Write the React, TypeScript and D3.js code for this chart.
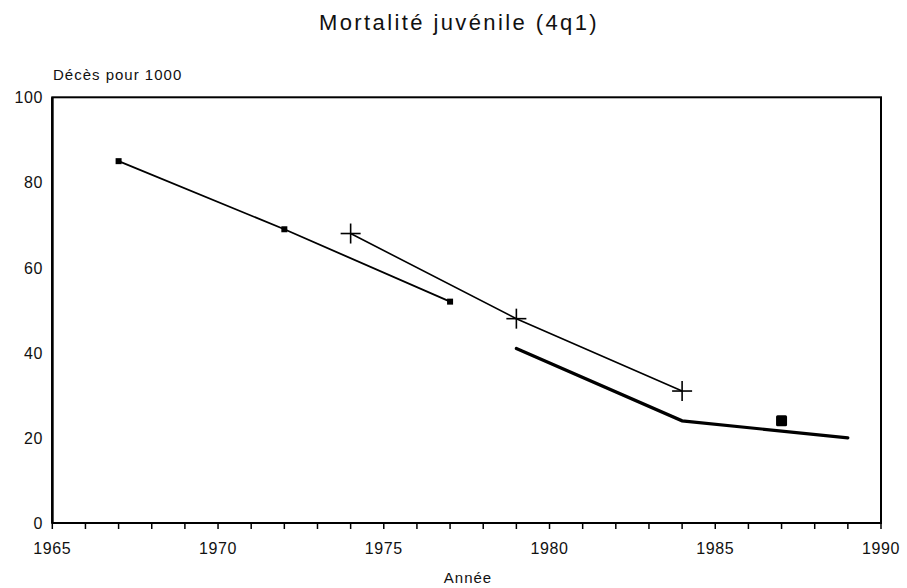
import React from "react";
import * as d3 from "d3";

const yearsA = [1967, 1972, 1977];
const valuesA = [85, 69, 52];
const yearsB = [1974, 1979, 1984];
const valuesB = [68, 48, 31];
const yearsC = [1979, 1984, 1989];
const valuesC = [41, 24, 20];
const yearsD = [1987];
const valuesD = [24];
const xTickLabels = [1965, 1970, 1975, 1980, 1985, 1990];
const yTickLabels = [0, 20, 40, 60, 80, 100];
const minorYears = d3.range(1965, 1991);

const W = 907;
const H = 588;
const FONT = "'Liberation Sans', Arial, Helvetica, sans-serif";

export default function App() {
  const x = d3.scaleLinear().domain([1965, 1990]).range([52.3, 881]);
  const y = d3.scaleLinear().domain([0, 100]).range([523, 97.3]);
  const line = d3
    .line<[number, number]>()
    .x((d) => x(d[0]))
    .y((d) => y(d[1]));
  const zip = (a: number[], b: number[]) => a.map((v, i) => [v, b[i]] as [number, number]);
  const A = zip(yearsA, valuesA);
  const B = zip(yearsB, valuesB);
  const C = zip(yearsC, valuesC);
  const D = zip(yearsD, valuesD);

  return (
    <svg
      width={W}
      height={H}
      style={{ position: "absolute", left: 0, top: 0, background: "#fff" }}
      fontFamily={FONT}
    >
      <rect x={0} y={0} width={W} height={H} fill="#fff" />
      <text x={459} y={30} textAnchor="middle" fontSize={22} letterSpacing={2.4} fill="#111">
        Mortalité juvénile (4q1)
      </text>
      <text x={53} y={80} fontSize={15} letterSpacing={1} fill="#111">
        Décès pour 1000
      </text>
      <text x={468} y={583} textAnchor="middle" fontSize={15} letterSpacing={1} fill="#111">
        Année
      </text>

      {/* frame */}
      <rect
        x={x(1965)}
        y={y(100)}
        width={x(1990) - x(1965)}
        height={y(0) - y(100)}
        fill="none"
        stroke="#000"
        strokeWidth={2}
      />
      <line x1={x(1965)} x2={x(1965)} y1={y(100)} y2={y(0)} stroke="#000" strokeWidth={2.5} />
      <line x1={x(1965)} x2={x(1990)} y1={y(0)} y2={y(0)} stroke="#000" strokeWidth={2.2} />

      {minorYears.map((yr) => (
        <line key={yr} x1={x(yr)} x2={x(yr)} y1={y(0)} y2={y(0) + 6} stroke="#000" strokeWidth={1.5} />
      ))}

      {xTickLabels.map((yr) => (
        <text key={yr} x={x(yr)} y={y(0) + 31} textAnchor="middle" fontSize={16} letterSpacing={0.6} fill="#111">
          {yr}
        </text>
      ))}
      {yTickLabels.map((v) => (
        <text key={v} x={43} y={y(v) + 6} textAnchor="end" fontSize={16} letterSpacing={0.6} fill="#111">
          {v}
        </text>
      ))}

      {/* series A */}
      <path d={line(A) || ""} fill="none" stroke="#000" strokeWidth={1.8} />
      {A.map((d, i) => (
        <rect key={i} x={x(d[0]) - 3} y={y(d[1]) - 3} width={6} height={6} fill="#000" />
      ))}

      {/* series B */}
      <path d={line(B) || ""} fill="none" stroke="#000" strokeWidth={1.6} />
      {B.map((d, i) => (
        <g key={i} stroke="#000" strokeWidth={1.6}>
          <line x1={x(d[0]) - 10} x2={x(d[0]) + 10} y1={y(d[1])} y2={y(d[1])} />
          <line x1={x(d[0])} x2={x(d[0])} y1={y(d[1]) - 10} y2={y(d[1]) + 10} />
        </g>
      ))}

      {/* series C */}
      <path d={line(C) || ""} fill="none" stroke="#000" strokeWidth={3.2} strokeLinecap="round" />

      {/* series D */}
      {D.map((d, i) => (
        <rect key={i} x={x(d[0]) - 5.5} y={y(d[1]) - 5.5} width={11} height={11} rx={1.5} fill="#000" />
      ))}
    </svg>
  );
}
